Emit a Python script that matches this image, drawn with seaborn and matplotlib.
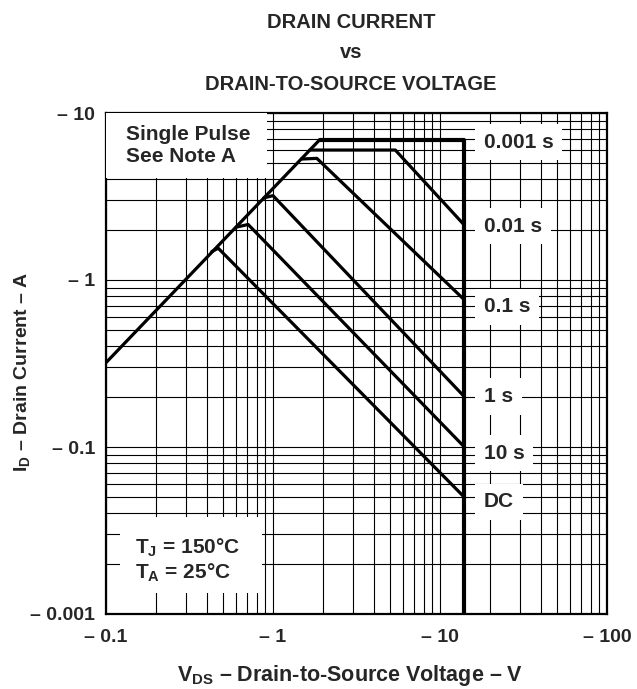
"""
Safe operating area chart: drain current vs drain-to-source voltage
"""
import matplotlib
matplotlib.use('Agg')
import matplotlib.pyplot as plt
import seaborn as sns
import pandas as pd
from matplotlib.patches import Rectangle
from matplotlib.ticker import LogLocator, NullFormatter, FixedLocator


# curve data (magnitudes: V_DS in V, I_D in A)
rds_on_vds = [0.1, 1.9]
rds_on_id = [0.32, 6.9]

pulse_labels = ['0.001 s', '0.01 s', '0.1 s', '1 s', '10 s', 'DC']
pulse_vds = [
    [1.9, 14.0, 14.0],
    [1.66, 5.4, 14.0],
    [1.48, 1.83, 14.0],
    [0.88, 1.0, 14.0],
    [0.6, 0.71, 14.0],
    [0.43, 0.47, 14.0],
]
pulse_id = [
    [6.9, 6.9, 0.01],
    [6.0, 6.0, 2.13],
    [5.3, 5.35, 0.76],
    [3.1, 3.2, 0.2],
    [2.07, 2.15, 0.1],
    [1.48, 1.55, 0.05],
]

x_ticks = [0.1, 1, 10, 100]
x_tick_labels = ['\u2013 0.1', '\u2013 1', '\u2013 10', '\u2013 100']
y_ticks = [0.01, 0.1, 1, 10]
y_tick_labels = ['\u2013 0.001', '\u2013 0.1', '\u2013 1', '\u2013 10']


sns.set_style("white")
plt.rcParams['font.family'] = ['Liberation Sans', 'DejaVu Sans']
plt.rcParams['font.weight'] = 'bold'
plt.rcParams['mathtext.fontset'] = 'custom'
plt.rcParams['mathtext.rm'] = 'Liberation Sans:bold'
plt.rcParams['mathtext.bf'] = 'Liberation Sans:bold'
plt.rcParams['mathtext.it'] = 'Liberation Sans:bold'

W, H = 637, 689
fig = plt.figure(figsize=(W / 100, H / 100), dpi=100)
ax = fig.add_axes([106 / W, 1 - 614 / H, 501 / W, 501 / H])

# R_DS(on) limit line
sns.lineplot(x=rds_on_vds, y=rds_on_id, ax=ax, color='black', lw=2.3,
             estimator=None, sort=False, zorder=4)

# pulse duration curves
for i, lab in enumerate(pulse_labels):
    df = pd.DataFrame({'vds': pulse_vds[i], 'id': pulse_id[i]})
    lw = 3.0 if i == 0 else 2.3
    sns.lineplot(data=df, x='vds', y='id', ax=ax, color='black', lw=lw,
                 estimator=None, sort=False, zorder=4)

ax.set_xscale('log')
ax.set_yscale('log')
ax.set_xlim(0.1, 100)
ax.set_ylim(0.01, 10)

ax.xaxis.set_major_locator(FixedLocator(x_ticks))
ax.yaxis.set_major_locator(FixedLocator(y_ticks))
ax.set_xticklabels(x_tick_labels)
ax.set_yticklabels(y_tick_labels)
ax.xaxis.set_minor_locator(LogLocator(base=10, subs=range(2, 10)))
ax.yaxis.set_minor_locator(LogLocator(base=10, subs=range(2, 10)))
ax.xaxis.set_minor_formatter(NullFormatter())
ax.yaxis.set_minor_formatter(NullFormatter())
ax.tick_params(which='both', length=0, labelsize=14)
ax.tick_params(axis='x', pad=11)
ax.tick_params(axis='y', pad=8)
ax.grid(True, which='both', color='black', lw=0.8)
ax.set_axisbelow(True)
ax.set_xlabel('')
ax.set_ylabel('')
for sp in ax.spines.values():
    sp.set_color('black')
    sp.set_linewidth(1.6)

# white boxes for the notes
ax.add_patch(Rectangle((0, 0.870), 0.321, 0.130, transform=ax.transAxes,
                       facecolor='white', edgecolor='none', zorder=3))
ax.text(0.04, 0.935, 'Single Pulse\nSee Note A', transform=ax.transAxes,
        ha='left', va='center', fontsize=15, weight='bold', linespacing=1.2,
        zorder=5)
ax.add_patch(Rectangle((0.028, 0.042), 0.283, 0.152, transform=ax.transAxes,
                       facecolor='white', edgecolor='none', zorder=3))
ax.text(0.058, 0.132, r'T$_{\rm J}$ = 150°C', transform=ax.transAxes,
        ha='left', va='center', fontsize=15, weight='bold', zorder=5)
ax.text(0.058, 0.082, r'T$_{\rm A}$ = 25°C', transform=ax.transAxes,
        ha='left', va='center', fontsize=15, weight='bold', zorder=5)

# curve labels on the right
label_y = [6.7, 2.1, 0.69, 0.2, 0.092, 0.047]
for lab, yv in zip(pulse_labels, label_y):
    ax.text(18.3, yv, lab, ha='left', va='center', fontsize=15,
            weight='bold', zorder=5,
            bbox=dict(boxstyle='square,pad=0.42', facecolor='white',
                      edgecolor='none'))

# titles and axis labels
fig.text(0.551, 1 - 22 / H, 'DRAIN CURRENT', ha='center', va='center',
         fontsize=14.5, weight='bold')
fig.text(0.551, 1 - 52 / H, 'vs', ha='center', va='center',
         fontsize=14.5, weight='bold')
fig.text(0.551, 1 - 84 / H, 'DRAIN-TO-SOURCE VOLTAGE', ha='center',
         va='center', fontsize=14.5, weight='bold')
dash = '\u2013'
fig.text(350 / W, 1 - 676 / H,
         r'V$_{\rm DS}$ ' + dash + ' Drain-to-Source Voltage ' + dash + ' V',
         ha='center', va='center', fontsize=15.5, weight='bold')
fig.text(22 / W, 1 - 372 / H,
         r'I$_{\rm D}$ ' + dash + ' Drain Current ' + dash + ' A',
         ha='center', va='center', rotation=90, fontsize=14, weight='bold')

fig.savefig('out.png', dpi=100)
